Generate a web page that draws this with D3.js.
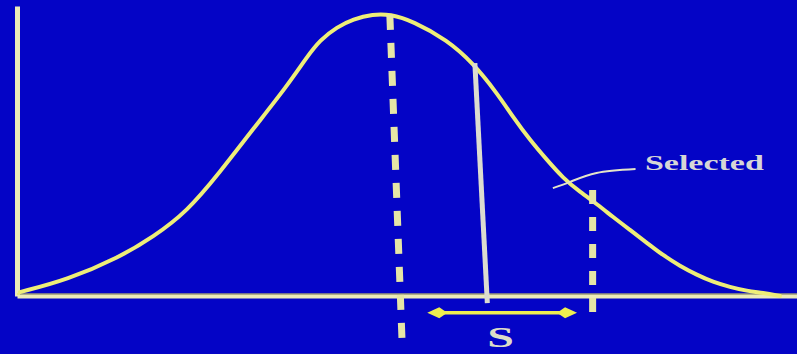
<!DOCTYPE html>
<html>
<head>
<meta charset="utf-8">
<script src="https://cdn.jsdelivr.net/npm/d3@7"></script>
<style>
  html, body { margin: 0; padding: 0; background: #0404c6; }
  svg { display: block; }
</style>
</head>
<body>
<svg id="chart" width="797" height="354"></svg>
<script>
// ---- Data (x in arbitrary units 0..100, y relative density 0..1) ----
const curveX = [0.38, 6.41, 13.21, 17.44, 21.79, 26.03, 30.26, 34.62, 37.18, 38.85, 41.03, 43.08, 45.64, 47.82, 50.77, 55.13, 58.46, 61.54, 63.59, 65.77, 67.95, 70.00, 72.18, 74.36, 76.41, 78.59, 80.77, 82.82, 85.00, 87.18, 89.23, 91.41, 93.59, 95.64, 97.82];
const curveY = [0.014, 0.057, 0.139, 0.210, 0.300, 0.441, 0.594, 0.747, 0.851, 0.911, 0.957, 0.985, 1.003, 1.003, 0.978, 0.911, 0.829, 0.722, 0.637, 0.555, 0.484, 0.420, 0.370, 0.327, 0.281, 0.235, 0.189, 0.145, 0.107, 0.075, 0.050, 0.032, 0.018, 0.011, 0.000];

// mean (dashed), selection cut (solid), selected mean (dashed)
const meanLineX = [47.8, 49.4];
const meanLineY = [1.0, -0.185];
const cutLineX = [58.7, 60.3];
const cutLineY = [0.829, -0.025];
const selLineX = [73.8, 73.8];
const selLineY = [0.377, -0.060];

// selection differential arrow
const arrowX = [52.6, 71.8];
const arrowY = -0.060;

// labels
const labelS = "S";
const labelSPos = [62.0, -0.183];
const labelSelected = "Selected";
const labelSelectedPos = [80.5, 0.448];
const leaderX = [79.3, 74.3, 70.9, 68.7];
const leaderY = [0.452, 0.438, 0.406, 0.384];

const X_DOMAIN = [0, 100];
const Y_DOMAIN = [0, 1];
const Y_AXIS_TOP = 1.032;

// ---- Layout ----
const W = 797, H = 354;
const svg = d3.select("#chart");
const x = d3.scaleLinear().domain(X_DOMAIN).range([17, 797]);
const y = d3.scaleLinear().domain(Y_DOMAIN).range([296, 15]);

svg.append("rect").attr("width", W).attr("height", H).attr("fill", "#0404c6");

const AXIS_COLOR = "#ecebb8";
const CURVE_COLOR = "#eeee78";

// axes (no ticks)
const xAxis = d3.axisBottom(x).tickValues([]).tickSizeOuter(0);
svg.append("g").attr("transform", `translate(0,${y(0)})`).call(xAxis)
  .call(g => g.select(".domain").attr("stroke", AXIS_COLOR).attr("stroke-width", 4));

const yAxisScale = d3.scaleLinear().domain([0, Y_AXIS_TOP]).range([y(0), y(Y_AXIS_TOP)]);
const yAxis = d3.axisLeft(yAxisScale).tickValues([]).tickSizeOuter(0);
svg.append("g").attr("transform", `translate(${x(0)},0)`).call(yAxis)
  .call(g => g.select(".domain").attr("stroke", AXIS_COLOR).attr("stroke-width", 5));

// yellow top edge of baseline
svg.append("line")
  .attr("x1", x(0)).attr("x2", W)
  .attr("y1", y(0) - 2).attr("y2", y(0) - 2)
  .attr("stroke", "#e8e850").attr("stroke-width", 1.2);

// distribution curve
const pts = curveX.map((v, i) => [v, curveY[i]]);
const line = d3.line().x(d => x(d[0])).y(d => y(d[1])).curve(d3.curveBasis);
svg.append("path").datum(pts).attr("d", line)
  .attr("fill", "none").attr("stroke", CURVE_COLOR).attr("stroke-width", 4).attr("stroke-linecap", "round");

// vertical lines
const seg = d3.line().x(d => x(d[0])).y(d => y(d[1]));
function vline(xs, ys, opts) {
  svg.append("path").datum([[xs[0], ys[0]], [xs[1], ys[1]]]).attr("d", seg)
    .attr("fill", "none")
    .attr("stroke", opts.color)
    .attr("stroke-width", opts.width)
    .attr("stroke-dasharray", opts.dash || null);
}
vline(meanLineX, meanLineY, { color: "#e6e6a6", width: 7, dash: "15,13" });
vline(selLineX, selLineY, { color: "#e6e6a6", width: 7, dash: "14,13" });
vline(cutLineX, cutLineY, { color: "#dcdcd0", width: 5 });

// double-headed arrow
const ax0 = x(arrowX[0]), ax1 = x(arrowX[1]), ay = y(arrowY);
svg.append("line").attr("x1", ax0 + 6).attr("x2", ax1 - 6).attr("y1", ay).attr("y2", ay)
  .attr("stroke", "#eeee50").attr("stroke-width", 3.5);
const headL = d3.path();
headL.moveTo(ax0, ay); headL.lineTo(ax0 + 12, ay - 5.5); headL.lineTo(ax0 + 20, ay); headL.lineTo(ax0 + 12, ay + 5.5); headL.closePath();
const headR = d3.path();
headR.moveTo(ax1, ay); headR.lineTo(ax1 - 12, ay - 5.5); headR.lineTo(ax1 - 20, ay); headR.lineTo(ax1 - 12, ay + 5.5); headR.closePath();
svg.append("path").attr("d", headL.toString()).attr("fill", "#eeee50");
svg.append("path").attr("d", headR.toString()).attr("fill", "#eeee50");

// leader line for "Selected"
const leader = d3.line().x(d => x(d[0])).y(d => y(d[1])).curve(d3.curveNatural);
svg.append("path").datum(leaderX.map((v, i) => [v, leaderY[i]])).attr("d", leader)
  .attr("fill", "none").attr("stroke", "#e4e4c8").attr("stroke-width", 2);

// labels
svg.append("text")
  .attr("transform", `translate(${x(labelSelectedPos[0])},${y(labelSelectedPos[1])}) scale(1.62,1)`)
  .attr("font-family", "Liberation Serif, Times New Roman, serif")
  .attr("font-weight", "bold").attr("font-size", 21)
  .attr("fill", "#d6d6d6").text(labelSelected);

svg.append("text")
  .attr("transform", `translate(${x(labelSPos[0])},${y(labelSPos[1])}) scale(1.6,1)`)
  .attr("text-anchor", "middle")
  .attr("font-family", "Liberation Serif, Times New Roman, serif")
  .attr("font-weight", "bold").attr("font-size", 30)
  .attr("fill", "#dcdcc8").text(labelS);
</script>
</body>
</html>
